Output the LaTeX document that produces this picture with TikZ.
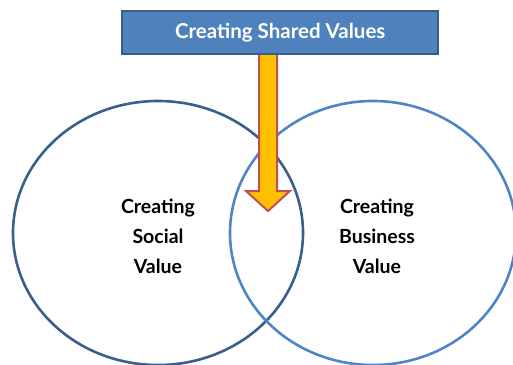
\documentclass[tikz,border=0pt]{standalone}
\usepackage{fontspec}
\setmainfont{Lato}
\definecolor{boxfill}{HTML}{4F81BD}
\definecolor{boxline}{HTML}{385D8A}
\definecolor{leftc}{HTML}{3A5F8E}
\definecolor{rightc}{HTML}{4F85C8}
\definecolor{arrowfill}{HTML}{FFC000}
\definecolor{arrowline}{HTML}{C0504D}
\tikzset{
  venn/.style={line width=2.6pt},
  label/.style={font=\bfseries\fontsize{19.5}{30}\selectfont, align=center, text=black},
}
\begin{document}
\begin{tikzpicture}[x=1pt,y=-1pt]
\useasboundingbox (0,0) rectangle (513,364);
\draw[venn, leftc] (158,233) ellipse [x radius=145, y radius=132];
\draw[venn, rightc] (373,233) ellipse [x radius=143, y radius=132];
\node[label] (social) at (158,236) {Creating\\Social\\Value};
\node[label] (business) at (377,236) {Creating\\Business\\Value};
\draw[line width=2pt, arrowline, fill=arrowfill, line join=miter]
  (259,52) -- (277,52) -- (277,191) -- (290,191) -- (268,211) -- (246,191) -- (259,191) -- cycle;
\node[draw=boxline, line width=2.4pt, fill=boxfill, minimum width=316pt, minimum height=43pt,
      text=white, font=\bfseries\fontsize{20.5}{24}\selectfont, anchor=north west, inner sep=0pt]
      (top) at (121,10) {Creating Shared Values};
\end{tikzpicture}
\end{document}
